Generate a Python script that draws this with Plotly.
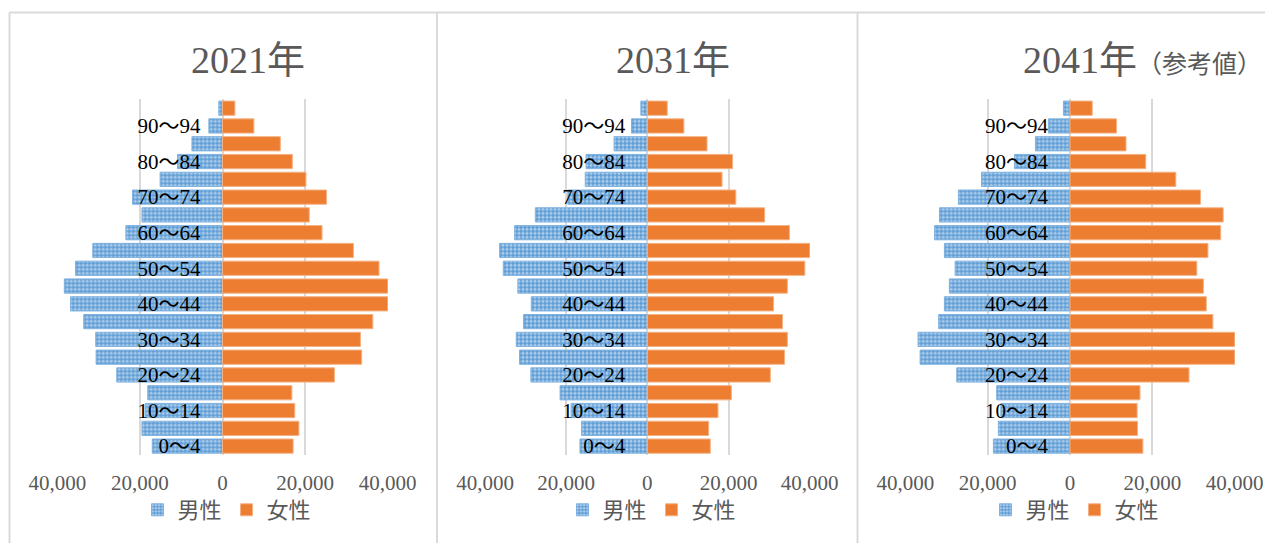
import plotly.graph_objects as go

# the page adds an 8px body margin, so the figure is drawn 8px smaller and
# every reference pixel position is shifted by that offset
OFF = 8
W, H = 1273 - OFF, 543 - OFF

age_groups = ["0～4", "5～9", "10～14", "15～19", "20～24", "25～29", "30～34", "35～39",
              "40～44", "45～49", "50～54", "55～59", "60～64", "65～69", "70～74",
              "75～79", "80～84", "85～89", "90～94", "95～"]
tick_labels = ["0～4", "10～14", "20～24", "30～34", "40～44", "50～54", "60～64", "70～74", "80～84", "90～94"]
x_tick_vals = [-40000, -20000, 0, 20000, 40000]
x_tick_text = ["40,000", "20,000", "0", "20,000", "40,000"]

# values listed from 0～4 up to 95～
male_2021 = [17000, 19500, 18700, 18100, 25600, 30600, 30700, 33600, 36800, 38300,
             35600, 31400, 23400, 19500, 21800, 15100, 10900, 7400, 3300, 900]
female_2021 = [17100, 18500, 17500, 16800, 27100, 33700, 33400, 36400, 40100, 40700,
               37900, 31700, 24100, 21000, 25200, 20200, 16900, 14000, 7600, 3000]

male_2031 = [16600, 16200, 18800, 21500, 28700, 31500, 32300, 30500, 28600, 31900,
             35500, 36400, 32700, 27600, 19600, 15300, 15100, 8200, 3900, 1600]
female_2031 = [15500, 15100, 17400, 20700, 30300, 33800, 34500, 33300, 31100, 34500,
               38800, 40600, 35000, 28900, 21800, 18400, 21000, 14700, 9000, 4900]

male_2041 = [18600, 17400, 16800, 17800, 27500, 36400, 36900, 31900, 30500, 29300,
             27900, 30500, 32900, 31700, 27100, 21500, 13500, 8400, 5200, 1600]
female_2041 = [17700, 16400, 16300, 17000, 28900, 40600, 40500, 34700, 33100, 32400,
               30800, 33500, 36600, 37200, 31700, 25700, 18400, 13600, 11300, 5400]

titles = ["2021年", "2031年", "2041年<span style='font-size:25px'>（参考値）</span>"]
series = [(male_2021, female_2021), (male_2031, female_2031), (male_2041, female_2041)]

BLUE = "#5B9BD5"
ORANGE = "#ED7D31"
GRID = "#D9D9D9"
TXT = "#595959"
FONT = "Liberation Serif, Noto Sans CJK JP, serif"


def fx(px):
    return (px - OFF) / W


def fy(py):
    return 1 - (py - OFF) / H


# pixel geometry of each panel in the reference: (left of -40000, right of +40000)
panels_px = [(57.3, 387.7), (485.0, 809.7), (905.3, 1234.7)]
title_cx = [248, 673, 1142]
legend_cx = [227, 652, 1075]
y_top_px, y_bot_px = 99.3, 455.0

fig = go.Figure()
legend_names = ["legend", "legend2", "legend3"]

for i, ((m, f), (x0, x1)) in enumerate(zip(series, panels_px)):
    sfx = "" if i == 0 else str(i + 1)
    fig.add_trace(go.Bar(
        y=age_groups, x=[-v for v in m], orientation="h", name="男性",
        marker=dict(color=BLUE, line=dict(color="#7FB2E0", width=1),
                    pattern=dict(shape=".", fgcolor="white", bgcolor=BLUE, size=4, solidity=0.5)),
        xaxis="x" + sfx, yaxis="y" + sfx, legend=legend_names[i],
    ))
    fig.add_trace(go.Bar(
        y=age_groups, x=f, orientation="h", name="女性",
        marker=dict(color=ORANGE, line=dict(color="#F4B183", width=1)),
        xaxis="x" + sfx, yaxis="y" + sfx, legend=legend_names[i],
    ))
    fig.layout["xaxis" + sfx] = dict(
        domain=[fx(x0), fx(x1)], range=[-40000, 40000], anchor="y" + sfx,
        tickvals=x_tick_vals, ticktext=x_tick_text, showgrid=True, gridcolor=GRID,
        gridwidth=1.5, zeroline=False, showline=False, ticks="", automargin=False,
        ticklabelstandoff=13,
        tickfont=dict(family=FONT, size=21, color=TXT), fixedrange=True,
    )
    fig.layout["yaxis" + sfx] = dict(
        domain=[fy(y_bot_px), fy(y_top_px)], type="category",
        categoryorder="array", categoryarray=age_groups, range=[-0.5, 19.5],
        anchor="free", position=fx((x0 + x1) / 2), side="left", automargin=False,
        tickvals=tick_labels, ticktext=tick_labels, showgrid=False,
        zeroline=False, showline=False, ticks="", ticklabelstandoff=22,
        tickfont=dict(family=FONT, size=21, color="#000000"), fixedrange=True,
    )
    fig.add_annotation(x=fx(title_cx[i]), y=fy(60), xref="paper", yref="paper",
                       text=titles[i], showarrow=False, xanchor="center", yanchor="middle",
                       font=dict(family=FONT, size=38, color=TXT))
    fig.layout[legend_names[i]] = dict(
        orientation="h", x=fx(legend_cx[i]), y=fy(510), xanchor="center", yanchor="middle",
        font=dict(family=FONT, size=22, color=TXT), bgcolor="rgba(0,0,0,0)",
        itemwidth=30, tracegroupgap=0,
    )

# panel borders
border = dict(color=GRID, width=2)
fig.add_shape(type="line", xref="paper", yref="paper", x0=fx(9.5), x1=1, y0=fy(12.5), y1=fy(12.5), line=border)
for xp in [9.5, 437, 857.5]:
    fig.add_shape(type="line", xref="paper", yref="paper", x0=fx(xp), x1=fx(xp), y0=0, y1=fy(12.5), line=border)

fig.update_layout(
    width=W, height=H, margin=dict(l=0, r=0, t=0, b=0, autoexpand=False),
    paper_bgcolor="white", plot_bgcolor="white",
    barmode="relative", bargap=0.2, showlegend=True,
)

fig.write_html("out.html")
